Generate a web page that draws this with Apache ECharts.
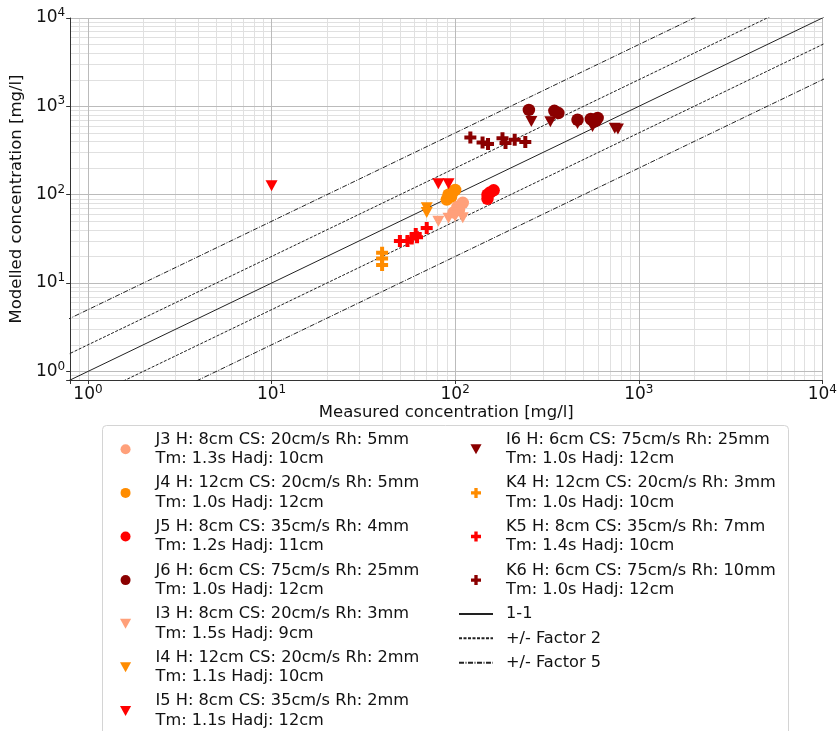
<!DOCTYPE html>
<html><head><meta charset="utf-8">
<script src="https://cdn.jsdelivr.net/npm/echarts@6/dist/echarts.min.js"></script>
<style>html,body{margin:0;padding:0;background:#fff}#c{width:840px;height:731px}</style>
</head><body><div id="c"></div>
<script>
// ---- data (measured, modelled) in mg/l ----
const J3 = [[98,63],[103,73],[110,81],[105,68]];
const J4 = [[90,88],[92,100],[97,108],[100,113],[95,95]];
const J5 = [[150,90],[150,100],[155,106],[162,112]];
const J6 = [[252,912],[347,890],[365,840],[464,705],[548,720],[597,740],[580,680]];
const I3 = [[81,50],[92,54],[100,57],[110,55]];
const I4 = [[70,71],[70,63]];
const I5 = [[10,126],[81,133],[92,133]];
const I6 = [[260,673],[330,670],[464,640],[560,590],[740,567],[770,555]];
const K4 = [[40,22],[40,19],[40,16]];
const K5 = [[50,30],[55,30],[58,32],[61,36],[62,33],[70,42]];
const K6 = [[121,444],[141,390],[151,375],[181,437],[188,385],[211,418],[241,395]];

const names = [
  'J3 H: 8cm CS: 20cm/s Rh: 5mm\nTm: 1.3s Hadj: 10cm',
  'J4 H: 12cm CS: 20cm/s Rh: 5mm\nTm: 1.0s Hadj: 12cm',
  'J5 H: 8cm CS: 35cm/s Rh: 4mm\nTm: 1.2s Hadj: 11cm',
  'J6 H: 6cm CS: 75cm/s Rh: 25mm\nTm: 1.0s Hadj: 12cm',
  'I3 H: 8cm CS: 20cm/s Rh: 3mm\nTm: 1.5s Hadj: 9cm',
  'I4 H: 12cm CS: 20cm/s Rh: 2mm\nTm: 1.1s Hadj: 10cm',
  'I5 H: 8cm CS: 35cm/s Rh: 2mm\nTm: 1.1s Hadj: 12cm',
  'I6 H: 6cm CS: 75cm/s Rh: 25mm\nTm: 1.0s Hadj: 12cm',
  'K4 H: 12cm CS: 20cm/s Rh: 3mm\nTm: 1.0s Hadj: 10cm',
  'K5 H: 8cm CS: 35cm/s Rh: 7mm\nTm: 1.4s Hadj: 10cm',
  'K6 H: 6cm CS: 75cm/s Rh: 10mm\nTm: 1.0s Hadj: 12cm'
];
const lineNames = ['1-1', '+/- Factor 2', '+/- Factor 5'];
const factors = [1, 2, 5];
const axisMin = 0.8, axisMax = 10000;
const majorTicks = [1, 10, 100, 1000, 10000];
const minorMultipliers = [2,3,4,5,6,7,8,9];

const data = [J3,J4,J5,J6,I3,I4,I5,I6,K4,K5,K6];
const colors = ['#FFA07A','#FF8C00','#FF0000','#8B0000','#FFA07A','#FF8C00','#FF0000','#8B0000','#FF8C00','#FF0000','#8B0000'];
const CIRCLE = 'path://M1,0A1,1,0,1,1,0.999,0Z';
const TRI = 'path://M0,0L2,0L1,1.8Z';
const PLUS = 'path://M1,0H2V1H3V2H2V3H1V2H0V1H1Z';
const symbols = [CIRCLE,CIRCLE,CIRCLE,CIRCLE,TRI,TRI,TRI,TRI,PLUS,PLUS,PLUS];
const sizes = [12.5,12.5,12.5,12.5,[12,11],[12,11],[12,11],[12,11],12,12,12];

function fmt(v){
  const l = Math.log10(v), e = Math.round(l);
  if (Math.abs(l - e) > 1e-6 || e < 0) return '';
  return '{b|10}{s|' + e + '}';
}
const tickRich = {
  b:{fontFamily:'DejaVu Sans', fontSize:17, color:'#111'},
  s:{fontFamily:'DejaVu Sans', fontSize:12, color:'#111', padding:[0,0,10,0]}
};

// grid line positions
const minorVals = [0.9];
for (const m of majorTicks.slice(0,4)) for (const k of minorMultipliers) minorVals.push(m*k);
const gridMarks = [];
for (const v of minorVals) {
  gridMarks.push({xAxis: v, lineStyle:{color:'#e0e0e0', width:1, type:'solid'}});
  gridMarks.push({yAxis: v, lineStyle:{color:'#e0e0e0', width:1, type:'solid'}});
}
for (const v of majorTicks) {
  gridMarks.push({xAxis: v, lineStyle:{color:'#bbbbbb', width:1, type:'solid'}});
  gridMarks.push({yAxis: v, lineStyle:{color:'#bbbbbb', width:1, type:'solid'}});
}

const FONT = 'DejaVu Sans';
const series = [{
  type:'line', name:'__grid', data:[], silent:true, z:0,
  markLine:{silent:true, z:0, zlevel:0, symbol:['none','none'], label:{show:false}, animation:false, data:gridMarks}
}];
const lo = 0.1, hi = 100000;
const lineStyles = [
  {color:'#222', width:1, type:'solid'},
  {color:'#222', width:1, type:[3,1.5]},
  {color:'#222', width:1, type:[5,1.5,1,1.5]}
];
factors.forEach((f, i) => {
  const mults = f === 1 ? [1] : [f, 1/f];
  mults.forEach(m => {
    series.push({
      type:'line', name: lineNames[i], symbol:'none', z:2, clip:true, animation:false,
      data:[[lo, lo*m],[hi, hi*m]], lineStyle: lineStyles[i], itemStyle:{color:'#222'}
    });
  });
});
data.forEach((d, i) => {
  series.push({
    type:'scatter', name:names[i], data:d, symbol:symbols[i], symbolSize:sizes[i],
    itemStyle:{color:colors[i], opacity:1}, z:10, animation:false
  });
});

const legendCommon = {
  orient:'vertical', itemWidth:34, itemHeight:10, itemGap:5, padding:0, height:320,
  selectedMode:false,
  formatter: n => n.split('\n').map(l => '{t|' + l + '}').join('\n'),
  textStyle:{fontFamily:FONT, fontSize:16.2, lineHeight:19.3, color:'#111',
    rich:{t:{fontFamily:FONT, fontSize:16.2, lineHeight:19.3, color:'#111', padding:[0,0,0,8]}}}
};
const lineLegendItems = lineNames.map(n => ({name:n, itemStyle:{opacity:0}}));

const chart = echarts.init(document.getElementById('c'), null, {renderer:'canvas'});
chart.setOption({
  animation:false,
  backgroundColor:'#fff',
  textStyle:{fontFamily:FONT},
  grid:{left:65, right:15, top:18, bottom:351, containLabel:false},
  xAxis:{
    type:'log', logBase:10, min:axisMin, max:axisMax,
    name:'Measured concentration [mg/l]', nameLocation:'middle', nameGap:24,
    nameTextStyle:{fontFamily:FONT, fontSize:16.5, color:'#111'},
    axisLine:{show:true, lineStyle:{color:'#333', width:1}},
    axisTick:{show:true, length:4, lineStyle:{color:'#333'}},
    axisLabel:{formatter:fmt, rich:tickRich, margin:4},
    splitLine:{show:false}, minorTick:{show:false}
  },
  yAxis:{
    type:'log', logBase:10, min:axisMin, max:axisMax,
    name:'Modelled concentration [mg/l]', nameLocation:'middle', nameGap:42,
    nameTextStyle:{fontFamily:FONT, fontSize:16.5, color:'#111'},
    axisLine:{show:true, lineStyle:{color:'#333', width:1}},
    axisTick:{show:true, length:4, lineStyle:{color:'#333'}},
    axisLabel:{formatter:fmt, rich:tickRich, margin:5},
    splitLine:{show:false}, minorTick:{show:false}
  },
  legend:[
    Object.assign({}, legendCommon, {left:120, top:430, data:names.slice(0,7)}),
    Object.assign({}, legendCommon, {left:458, top:430, data:names.slice(7).concat(lineLegendItems)})
  ],
  graphic:[{
    type:'rect', left:102, top:425, silent:true, z:-1,
    shape:{width:686, height:330, r:4},
    style:{fill:'#fff', stroke:'#d4d4d4', lineWidth:1}
  }],
  series: series
});
</script>
</body></html>
